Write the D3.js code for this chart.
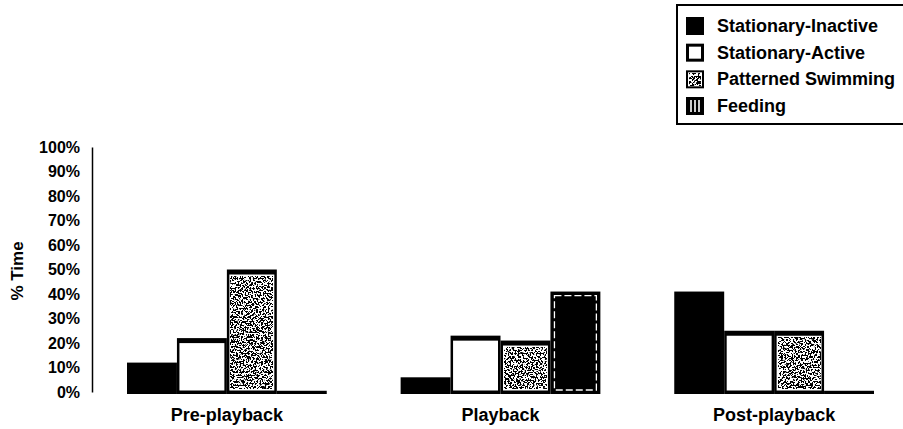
<!DOCTYPE html>
<html><head><meta charset="utf-8">
<script src="https://cdn.jsdelivr.net/npm/d3@7"></script>
<style>
body{margin:0;background:#fff;}
text{font-family:"Liberation Sans",Arial,Helvetica,sans-serif;font-weight:bold;fill:#000;}
</style></head>
<body><svg id="c" width="903" height="429"></svg>
<script>
const groups = ["Pre-playback","Playback","Post-playback"];
const series = ["Stationary-Inactive","Stationary-Active","Patterned Swimming","Feeding"];
const inactive = [12, 6, 41];
const active = [22, 23, 25];
const patterned = [50, 21, 25];
const feeding = [0.5, 41, 0.5];
const yTicks = [0,10,20,30,40,50,60,70,80,90,100];

const values = [inactive, active, patterned, feeding];
const svg = d3.select("#c");
const defs = svg.append("defs");
const f = defs.append("filter").attr("id","noise").attr("x",0).attr("y",0).attr("width",1).attr("height",1);
f.append("feTurbulence").attr("type","fractalNoise").attr("baseFrequency",0.6).attr("numOctaves",2).attr("seed",7);
f.append("feColorMatrix").attr("type","matrix").attr("values","0 0 0 0 0  0 0 0 0 0  0 0 0 0 0  -40 0 0 0 20.3");

const x = d3.scaleBand().domain(groups).range([127,874]).paddingInner(0.27).paddingOuter(0);
const xs = d3.scaleBand().domain(series).range([0, x.bandwidth()]).padding(0);
const y = d3.scaleLinear().domain([0,100]).range([392,147]);

// y axis
const ya = svg.append("g").attr("transform","translate(92,0)")
  .call(d3.axisLeft(y).tickValues(yTicks).tickSize(0).tickSizeOuter(0).tickPadding(12).tickFormat(d=>d+"%"));
ya.select(".domain").attr("stroke","#000").attr("stroke-width",1.5);
ya.selectAll("text").style("font-size","16px").style("font-family","'Liberation Sans',Arial,sans-serif").style("font-weight","bold");

svg.append("text").attr("transform","translate(19,271) rotate(-90)").attr("text-anchor","middle")
  .attr("dominant-baseline","middle").style("font-size","17px").text("% Time");

// x labels
const xa = svg.append("g").attr("transform","translate(0,408)")
  .call(d3.axisBottom(x).tickSize(0).tickPadding(0));
xa.select(".domain").remove();
xa.selectAll("text").attr("dy","0.71em").style("font-size","18px").style("font-family","'Liberation Sans',Arial,sans-serif").style("font-weight","bold");

// bars
const y0 = y(0);
function drawBar(g, si, bx, bw, top, bottom){
  const h = bottom - top;
  g.append("rect").attr("x",bx).attr("y",top).attr("width",bw).attr("height",h).attr("fill","#000");
  const ix = bx+2.5, iw = bw-5, it = top+5, ib = bottom-3.5, ih = ib-it;
  if (ih <= 0) return;
  if (si === 1) {
    g.append("rect").attr("x",ix).attr("y",it).attr("width",iw).attr("height",ih).attr("fill","#fff");
  } else if (si === 2) {
    g.append("rect").attr("x",ix).attr("y",it).attr("width",iw).attr("height",ih).attr("fill","#fff");
    g.append("rect").attr("x",ix+1.5).attr("y",it+1.5).attr("width",iw-3).attr("height",ih-3).attr("fill","#000").attr("filter","url(#noise)");
  } else if (si === 3 && ih > 10) {
    g.append("rect").attr("x",bx+4).attr("y",top+4).attr("width",bw-8).attr("height",h-8)
      .attr("fill","none").attr("stroke","#fff").attr("stroke-width",1.3).attr("stroke-dasharray","7 3");
  }
}
groups.forEach((grp, gi) => {
  series.forEach((s, si) => {
    const v = values[si][gi];
    const g = svg.append("g");
    drawBar(g, si, x(grp)+xs(s), xs.bandwidth(), y(v), y0+2);
  });
});

// legend
const lg = svg.append("g");
lg.append("rect").attr("x",677).attr("y",5).attr("width",260).attr("height",119).attr("fill","#fff").attr("stroke","#000").attr("stroke-width",2);
const ly = d3.scalePoint().domain(series).range([26,106]);
series.forEach((s, si) => {
  const cy = ly(s), sx = 686, sw = 18, sh = 18, sy = cy - sh/2;
  if (si === 0) lg.append("rect").attr("x",sx).attr("y",sy).attr("width",sw).attr("height",sh).attr("fill","#000");
  if (si === 1) lg.append("rect").attr("x",sx+1.5).attr("y",sy+1.5).attr("width",sw-3).attr("height",sh-3).attr("fill","#fff").attr("stroke","#000").attr("stroke-width",3);
  if (si === 2) {
    lg.append("rect").attr("x",sx+1).attr("y",sy+1).attr("width",sw-2).attr("height",sh-2).attr("fill","#fff").attr("stroke","#000").attr("stroke-width",2);
    lg.append("rect").attr("x",sx+3).attr("y",sy+3).attr("width",sw-6).attr("height",sh-6).attr("fill","#000").attr("filter","url(#noise)");
  }
  if (si === 3) {
    lg.append("rect").attr("x",sx).attr("y",sy).attr("width",sw).attr("height",sh).attr("fill","#000");
    [5,9,13].forEach(dx => lg.append("rect").attr("x",sx+dx-0.8).attr("y",sy+3).attr("width",1.6).attr("height",sh-6).attr("fill","#fff"));
  }
  lg.append("text").attr("x",717).attr("y",cy).attr("dominant-baseline","central").style("font-size","18px").text(s);
});
</script></body></html>
